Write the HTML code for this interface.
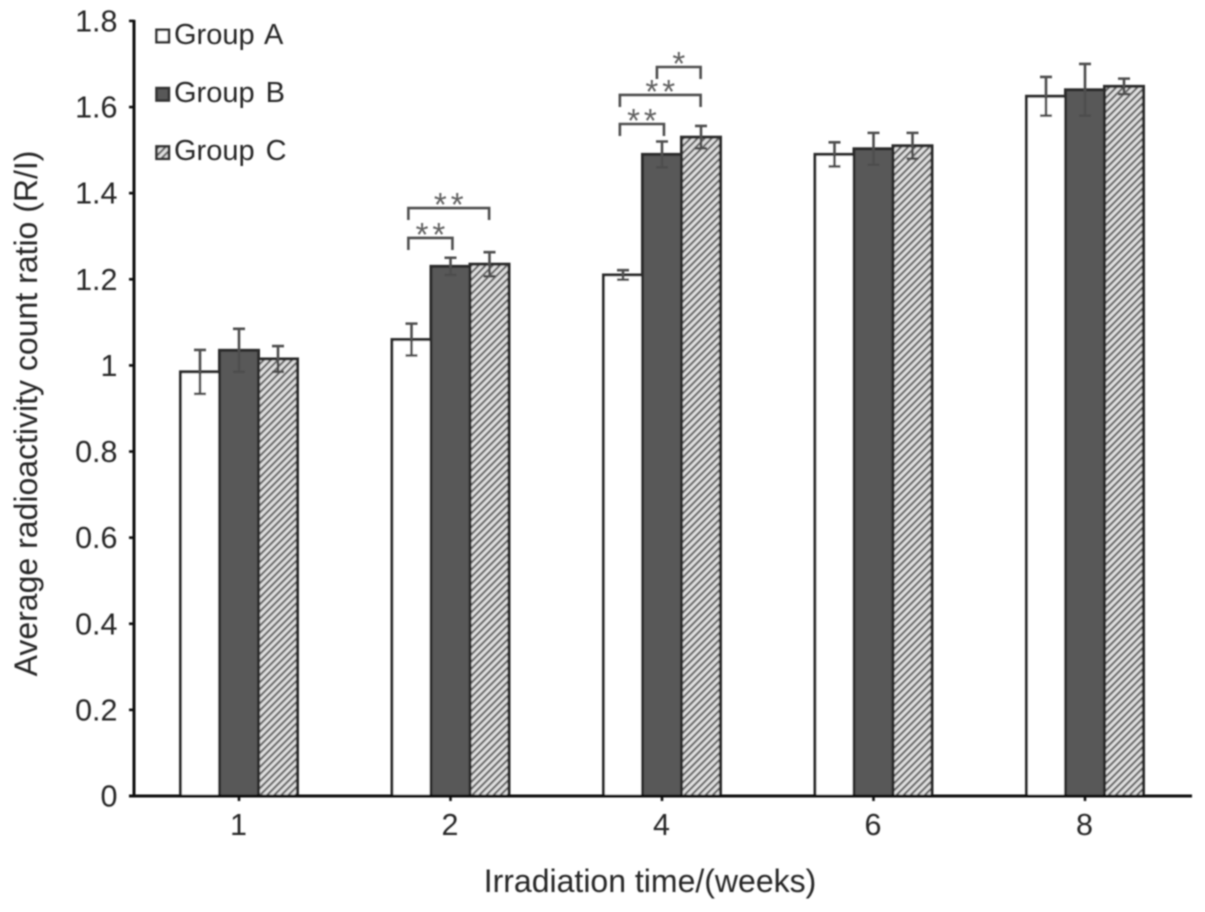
<!DOCTYPE html>
<html lang="en">
<head>
<meta charset="utf-8">
<title>Average radioactivity count ratio</title>
<style>
html,body{margin:0;padding:0;background:#fff;width:1205px;height:912px;overflow:hidden}
svg{display:block}
text{font-family:"Liberation Sans",Arial,sans-serif;fill:#262626}
</style>
</head>
<body>
<svg id="chart" xmlns="http://www.w3.org/2000/svg" width="1205" height="912" viewBox="0 0 1205 912">
<defs>
<pattern id="hatch" width="5" height="5" patternUnits="userSpaceOnUse" patternTransform="rotate(45)">
<rect width="5" height="5" fill="#e2e2e2"/>
<rect width="2.2" height="5" fill="#666666"/>
</pattern>
<filter id="soft" x="-5%" y="-5%" width="110%" height="110%"><feGaussianBlur stdDeviation="0.8"/></filter>
</defs>
<g id="root" filter="url(#soft)"></g>
</svg>
<script>
const categories = ['1', '2', '4', '6', '8'];
const seriesNames = ['Group A', 'Group B', 'Group C'];
const groupA = [0.985, 1.06, 1.21, 1.49, 1.625];
const groupB = [1.035, 1.23, 1.49, 1.503, 1.64];
const groupC = [1.015, 1.235, 1.53, 1.51, 1.648];
const errorA = [0.051, 0.037, 0.011, 0.028, 0.045];
const errorB = [0.05, 0.02, 0.03, 0.037, 0.06];
const errorC = [0.03, 0.028, 0.026, 0.03, 0.018];
const yTicks = ['0', '0.2', '0.4', '0.6', '0.8', '1', '1.2', '1.4', '1.6', '1.8'];
const bracketGroups = [1, 1, 2, 2, 2];
const bracketLevels = [1.296, 1.3655, 1.5606, 1.628, 1.693];
const bracketStars = ['**', '**', '**', '**', '*'];
const bracketStarts = [-1.08, -1.08, -1.08, -1.08, -0.13];
const bracketEnds = [0.05, 0.99, 0.05, 0.99, 0.99];

const NS = 'http://www.w3.org/2000/svg';
const root = document.getElementById('root');
const X0 = 134, X1 = 1192, Y0 = 796, YSCALE = 430.6, STEP = 211.5, BAR = 39, FIRST = 239;
const xCenter = function (i) { return FIRST + i * STEP; };
const yPos = function (v) { return Y0 - v * YSCALE; };

function make(tag, attrs, parent) {
  const el = document.createElementNS(NS, tag);
  for (const k in attrs) el.setAttribute(k, attrs[k]);
  (parent || root).appendChild(el);
  return el;
}

const seriesValues = [groupA, groupB, groupC];
const seriesErrors = [errorA, errorB, errorC];
const seriesFills = ['#ffffff', '#585858', 'url(#hatch)'];

categories.forEach(function (cat, i) {
  seriesValues.forEach(function (vals, s) {
    const left = xCenter(i) + (s - 1.5) * BAR;
    const bar = make('rect', { x: left, y: yPos(vals[i]), width: BAR, height: Y0 - yPos(vals[i]), fill: seriesFills[s], stroke: '#2a2a2a', 'stroke-width': 3 });
    
    
  });
});

categories.forEach(function (cat, i) {
  seriesValues.forEach(function (vals, s) {
    const cx = xCenter(i) + (s - 1) * BAR;
    const hi = yPos(vals[i] + seriesErrors[s][i]);
    const lo = yPos(vals[i] - seriesErrors[s][i]);
    const err = make('path', { d: 'M' + cx + ' ' + hi + 'V' + lo + 'M' + (cx - 6) + ' ' + hi + 'H' + (cx + 6) + 'M' + (cx - 6) + ' ' + lo + 'H' + (cx + 6), fill: 'none', stroke: '#4e4e4e', 'stroke-width': 2.6 });
    
    
  });
});

const axisLine = make('path', { d: 'M' + X0 + ' ' + (yPos(1.8) - 1) + 'V' + Y0 + 'M' + (X0 - 5) + ' ' + Y0 + 'H' + X1, fill: 'none', stroke: '#111', 'stroke-width': 3 });



yTicks.forEach(function (label, i) {
  const v = parseFloat(label);
  const tick = make('line', { x1: X0 - 5, x2: X0, y1: yPos(v), y2: yPos(v), stroke: '#111', 'stroke-width': 2.6 });
  
  
  const t = make('text', { x: 117.5, y: yPos(v) + 10.5, 'text-anchor': 'end', 'font-size': 30.5 });
  t.textContent = label;
  
  
});

categories.forEach(function (cat, i) {
  const tick = make('line', { x1: xCenter(i), x2: xCenter(i), y1: Y0, y2: Y0 + 5, stroke: '#111', 'stroke-width': 2.6 });
  
  
  const t = make('text', { x: xCenter(i) - 0.5, y: 835, 'text-anchor': 'middle', 'font-size': 30.5 });
  t.textContent = cat;
  
  
});

const xTitle = make('text', { x: 650, y: 892, 'text-anchor': 'middle', 'font-size': 32 });
xTitle.textContent = 'Irradiation time/(weeks)';



const yTitle = make('text', { x: 0, y: 0, transform: 'translate(37 413.5) rotate(-90)', 'text-anchor': 'middle', 'font-size': 32 });
yTitle.textContent = 'Average radioactivity count ratio (R/I)';



seriesNames.forEach(function (name, s) {
  const y = 36 + s * 58.3;
  const sw = make('rect', { x: 156.5, y: y - 6.2, width: 12.4, height: 12.4, fill: seriesFills[s], stroke: '#333', 'stroke-width': 2.6 });
  
  
  const t = make('text', { x: 174, y: 44 + s * 58, 'font-size': 29, 'word-spacing': 3 });
  t.textContent = name;
  
  
});

bracketLevels.forEach(function (level, b) {
  const c = xCenter(bracketGroups[b]);
  const x1 = c + bracketStarts[b] * BAR;
  const x2 = c + bracketEnds[b] * BAR;
  const y = yPos(level);
  const br = make('path', { d: 'M' + x1 + ' ' + (y + 12) + 'V' + y + 'H' + x2 + 'V' + (y + 12), fill: 'none', stroke: '#4e4e4e', 'stroke-width': 2.6 });
  
  
  const st = make('text', { x: (x1 + x2) / 2 + 2, y: y + 8, 'text-anchor': 'middle', 'font-size': 33, 'letter-spacing': 4 });
  st.textContent = bracketStars[b];
  st.style.fill = '#606060';
  
  
});
</script>
</body>
</html>
